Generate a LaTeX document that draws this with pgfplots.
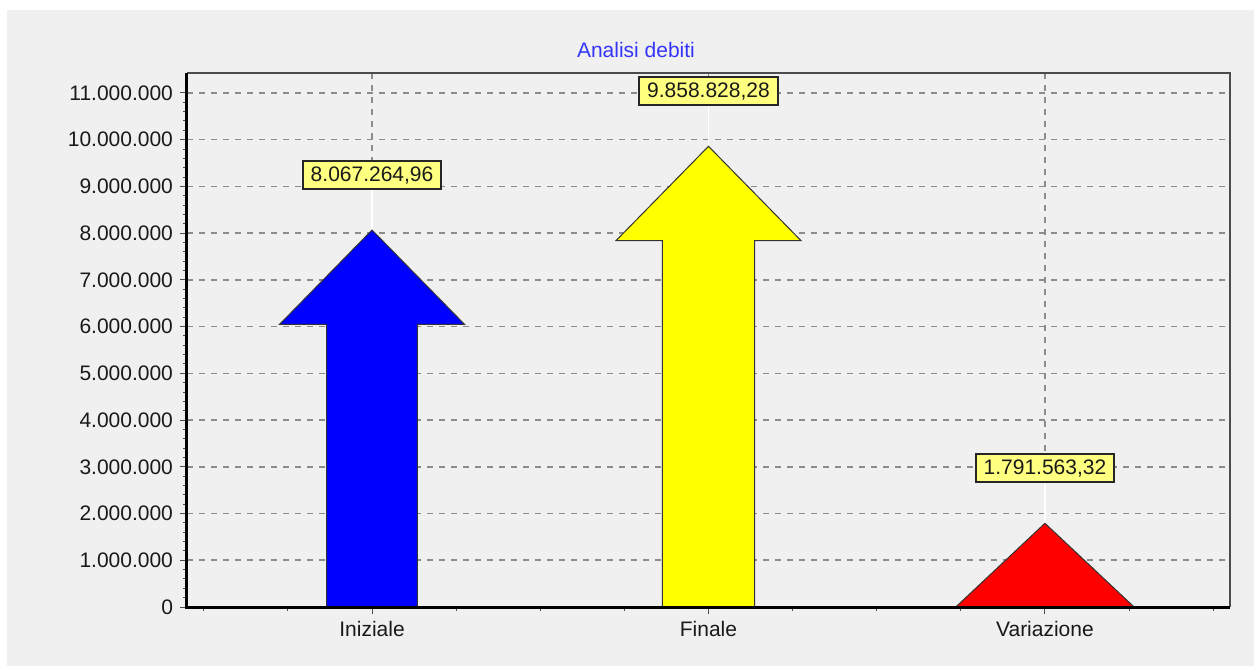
\documentclass[border=0pt]{standalone}
\usepackage{fontspec}
\setmainfont{Liberation Sans}
\usepackage{pgfplots}
\pgfplotsset{compat=1.18}
\definecolor{panel}{HTML}{F0F0F0}
\definecolor{gridg}{HTML}{8C8C8C}
\definecolor{titleblue}{HTML}{3535FA}
\definecolor{lab}{HTML}{FFFF80}
\definecolor{ayellow}{HTML}{FFFF00}
\definecolor{ablue}{HTML}{0000FF}
\definecolor{ared}{HTML}{FF0000}
\newcommand\fs{\fontsize{10.5}{12.6}\selectfont}
\begin{document}
\begin{tikzpicture}
\fill[white] (0,0) rectangle (627pt,333pt);
\fill[panel] (3.5pt,0) rectangle (627pt,328pt);
\node[font=\fs, text=titleblue] at (318pt,308pt) {Analisi debiti};
\begin{axis}[
  scale only axis, width=521.5pt, height=267pt,
  at={(93.5pt,29.5pt)}, anchor=south west,
  xmin=-0.55, xmax=2.55, ymin=0, ymax=11427000,
  xtick={0,1,2}, xticklabels={Iniziale,Finale,Variazione},
  minor xtick={-0.5,-0.25,0.25,0.5,0.75,1.25,1.5,1.75,2.25,2.5},
  ytick={0,1000000,2000000,3000000,4000000,5000000,6000000,7000000,8000000,9000000,10000000,11000000},
  yticklabels={0,1.000.000,2.000.000,3.000.000,4.000.000,5.000.000,6.000.000,7.000.000,8.000.000,9.000.000,10.000.000,11.000.000},
  scaled y ticks=false,
  minor y tick num=4,
  tick pos=left,
  tick align=outside,
  major tick length=3.5pt, minor tick length=2pt,
  every tick/.style={black!70, line width=0.5pt},
  xmajorgrids, ymajorgrids,
  major grid style={gridg, line width=0.8pt, dash pattern=on 3pt off 3pt},
  axis line style={draw=none},
  ticklabel style={font=\fs, text=black!90},
  /pgf/number format/assume math mode=true,
  clip=false,
]
% leader lines
\addplot[white, line width=0.6pt] coordinates {(0,8067264.96) (0,9000000)};
\addplot[white, line width=0.6pt] coordinates {(1,9858828.28) (1,10800000)};
\addplot[white, line width=0.6pt] coordinates {(2,1791563.32) (2,2700000)};
% arrows
\addplot[fill=ablue, draw=black!80, line width=0.5pt] coordinates {
  (-0.135,0) (-0.135,6047000) (-0.275,6047000) (0,8067264.96)
  (0.275,6047000) (0.135,6047000) (0.135,0)} -- cycle;
\addplot[fill=ayellow, draw=black!80, line width=0.5pt] coordinates {
  (0.863,0) (0.863,7839000) (0.725,7839000) (1,9858828.28)
  (1.275,7839000) (1.137,7839000) (1.137,0)} -- cycle;
\addplot[fill=ared, draw=black!80, line width=0.5pt] coordinates {
  (1.735,0) (2,1791563.32) (2.265,0)} -- cycle;
% value labels
\addplot[draw=none, mark=none, nodes near coords, point meta=explicit symbolic,
  nodes near coords style={font=\fs, text=black!90, fill=lab, draw=black!85,
    line width=0.9pt, anchor=south, yshift=20pt, inner xsep=4pt,
    minimum height=14pt, inner ysep=2pt}]
  coordinates {(0,8067264.96) [8.067.264,96] (1,9858828.28) [9.858.828,28] (2,1791563.32) [1.791.563,32]};
% axis lines
\draw[black!70, line width=1pt] (rel axis cs:0,1) -- (rel axis cs:1,1) -- (rel axis cs:1,0);
\draw[black, line width=1.5pt] (rel axis cs:0,1) -- (rel axis cs:0,0) -- (rel axis cs:1,0);
\end{axis}
\end{tikzpicture}
\end{document}
